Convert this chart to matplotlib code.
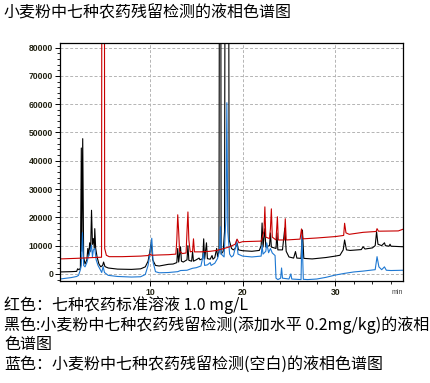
import matplotlib
matplotlib.use("Agg")
import matplotlib.pyplot as plt
from matplotlib.ticker import MultipleLocator

plt.rcParams['font.family'] = ['Noto Sans CJK SC', 'DejaVu Sans']

title = "小麦粉中七种农药残留检测的液相色谱图"
notes = ["红色：七种农药标准溶液 1.0 mg/L",
         "黑色:小麦粉中七种农药残留检测(添加水平 0.2mg/kg)的液相",
         "色谱图",
         "蓝色：小麦粉中七种农药残留检测(空白)的液相色谱图"]
x_ticks = [10, 20, 30]
y_ticks = [0, 10000, 20000, 30000, 40000, 50000, 60000, 70000, 80000]

# red: standard solution
red_t = [0.3, 2.0, 4.0, 4.78, 4.84, 5.07, 5.12, 5.3, 5.6, 7.0, 9.0, 9.8, 10.0, 10.2,
         11.0, 12.0, 12.8, 12.9, 13.0, 13.1, 13.2, 13.5, 13.9, 14.0, 14.1, 14.2, 14.35,
         14.6, 14.7, 14.8, 15.5, 16.5, 17.2, 18.0, 18.6, 19.2, 19.4, 19.6, 20.0, 21.0,
         22.0, 22.3, 22.4, 22.5, 22.9, 23.0, 23.1, 23.2, 23.6, 23.75, 23.85, 24.5, 24.6,
         24.7, 26.2, 26.35, 26.5, 28.0, 30.0, 30.9, 31.0, 31.15, 31.5, 33.0, 34.4, 34.5,
         34.65, 36.8, 37.3]
red_v = [5300, 5500, 5800, 5900, 200000, 200000, 9000, 6600, 6100, 6100, 6300, 6500, 7000, 6600,
         6700, 6800, 7000, 12000, 20900, 15000, 8000, 7200, 7400, 15000, 21900, 12000, 7800,
         8000, 12400, 7800, 7800, 8000, 8300, 9000, 9600, 10500, 12300, 11000, 11400, 11500,
         11600, 15000, 23700, 13000, 12500, 16000, 23000, 13000, 12000, 20200, 12000, 12000, 19500,
         12000, 12300, 15900, 12400, 12700, 13200, 13600, 17900, 14500, 14000, 14700, 15000, 16000,
         15100, 15200, 15800]

# black: spiked sample
black_t = [0.3, 1.5, 2.1, 2.2, 2.35, 2.5, 2.6, 2.65, 2.75, 2.85, 3.0, 3.2, 3.3, 3.4, 3.5, 3.6,
           3.7, 3.8, 3.9, 4.0, 4.05, 4.15, 4.3, 4.5, 4.7, 4.9, 5.0, 5.15, 5.5, 6.5, 8.0, 9.0,
           9.5, 9.8, 10.0, 10.15, 10.3, 10.6, 11.0, 11.5, 12.0, 12.5, 12.9, 13.0, 13.1, 13.3,
           13.4, 13.6, 14.0, 14.1, 14.2, 14.5, 14.6, 14.7, 15.0, 15.3, 15.4, 15.7, 15.8, 15.9,
           16.1, 16.2, 16.5, 16.7, 16.8, 17.0, 17.2, 17.3, 17.45, 17.53, 17.62, 17.68, 17.9,
           18.05, 18.15, 18.45, 18.55, 18.8, 19.0, 19.2, 19.4, 19.55, 20.0, 21.0, 21.8, 22.0,
           22.1, 22.2, 22.4, 22.5, 22.9, 23.0, 23.1, 23.6, 23.7, 23.8, 24.3, 24.55, 24.7, 25.0,
           25.5, 25.7, 25.85, 26.3, 26.45, 26.6, 27.5, 29.0, 30.0, 30.5, 30.85, 31.0, 31.2,
           31.6, 32.0, 32.8, 33.0, 33.2, 34.0, 34.3, 34.45, 34.6, 35.0, 35.3, 35.4, 35.8,
           35.9, 36.0, 37.3]
black_v = [700, 800, 900, 1800, 1500, 2000, 44500, 8000, 47800, 6000, 3500, 5000, 9000, 6500, 11000, 8000,
           22500, 10500, 12500, 9000, 16000, 9000, 6000, 3500, 2500, 3000, 4200, 2600, 2100, 1700, 1600, 1800,
           2500, 4500, 8000, 11200, 5000, 3000, 2800, 3100, 3400, 3500, 4000, 9000, 4200, 9600,
           4500, 4200, 5000, 10000, 4800, 4500, 7900, 4500, 5000, 5600, 5000, 5400, 12400, 5200,
           11000, 5400, 5200, 6500, 5200, 5800, 9000, 6000, 8000, 200000, 200000, 7000, 8000,
           15000, 200000, 200000, 12000, 9000, 8500, 9000, 10900, 8500, 8200, 8000, 8300, 10000,
           18000, 9500, 16000, 9500, 10000, 14500, 9500, 9000, 14500, 8500, 8500, 16200, 8000, 6000,
           5600, 7900, 5600, 5500, 15500, 5500, 5300, 5800, 6300, 6600, 8500, 12000, 8500,
           8300, 8400, 8600, 9600, 8800, 9200, 10000, 14900, 10500, 10000, 11000, 10000, 9800,
           10500, 9800, 9600]

# blue: blank sample
blue_t = [0.3, 1.5, 2.1, 2.3, 2.5, 2.6, 2.72, 2.85, 3.0, 3.2, 3.35, 3.5, 3.7, 3.8, 3.9, 4.05,
          4.2, 4.4, 4.6, 4.8, 4.95, 5.1, 5.5, 6.5, 8.0, 9.0, 9.5, 9.8, 10.0, 10.2, 10.35, 10.6,
          11.0, 12.0, 13.0, 13.3, 14.0, 14.6, 15.0, 15.5, 15.8, 15.9, 16.2, 16.5, 16.6, 17.0,
          17.3, 17.5, 17.6, 17.7, 18.0, 18.2, 18.3, 18.4, 18.6, 18.8, 19.0, 19.2, 19.35, 19.5,
          20.0, 21.0, 22.0, 22.1, 22.2, 22.5, 22.6, 22.8, 23.0, 23.2, 23.5, 23.6, 23.8, 24.1,
          24.2, 24.3, 25.0, 25.2, 25.3, 26.3, 26.4, 26.55, 27.0, 28.0, 29.0, 30.0, 31.0, 32.0,
          33.0, 33.5, 34.3, 34.5, 34.7, 35.0, 35.3, 35.5, 36.0, 37.3]
blue_v = [-1800, -1300, -900, -500, 1500, 3000, 14600, 3000, 2500, 4000, 6000, 7500, 10200, 6000, 8500, 9000,
          5000, 3000, 1800, 500, 2600, 500, -500, -900, -1100, -1000, -200, 3000, 7000, 12600, 4000, 800,
          400, 500, 800, 1200, 1300, 2000, 2200, 2800, 7400, 3000, 3200, 4000, 3000, 3800,
          5500, 8000, 16700, 7000, 6000, 20000, 60500, 15000, 7000, 6000, 6500, 9000, 12000, 7000,
          6300, 6000, 6300, 10200, 7000, 8000, 11000, 7500, 9000, 7400, 6500, -1500, -2000, -1500,
          2100, -1500, -1800, 0, -1800, -2000, 13800, -1900, -2000, -1800, -1200, -400, 200, 700,
          1000, 1200, 1500, 6100, 2500, 1500, 2500, 1300, 1200, 1300]

fig = plt.figure(figsize=(4.31, 3.83), dpi=100)
W, H = 431, 383
ax = fig.add_axes([60 / W, (H - 281) / H, (403 - 60) / W, (281 - 43.3) / H])

ax.plot(black_t, black_v, color='#000000', lw=0.8)
ax.plot(blue_t, blue_v, color='#1e78d2', lw=0.8)
ax.plot(red_t, red_v, color='#c80000', lw=0.8)

ax.set_xlim(0.3, 37.3)
ax.set_ylim(-2500, 81500)
ax.set_xticks(x_ticks)
ax.set_yticks(y_ticks)
ax.xaxis.set_minor_locator(MultipleLocator(2))
ax.yaxis.set_minor_locator(MultipleLocator(2000))
ax.grid(True, which='major', color='#b4b4b4', linestyle=(0, (3, 2)), linewidth=0.7)
ax.tick_params(which='major', length=3.5, width=0.7, pad=1.5, labelsize=6.2, labelcolor='#202010')
ax.tick_params(which='minor', length=2, width=0.6)
for lab in ax.get_xticklabels() + ax.get_yticklabels():
    lab.set_fontweight('bold')
    lab.set_family(['Liberation Sans', 'DejaVu Sans'])
for s in ax.spines.values():
    s.set_linewidth(0.9)

fig.text(397 / W, 1 - 293 / H, "min", fontsize=5, ha='center', va='center',
         color='#404040', family=['Liberation Sans'])

fig.text(4 / W, 1 - 13 / H, title, fontsize=11.5, ha='left', va='center')
for i, line in enumerate(notes):
    fig.text(4 / W, 1 - (305 + 20 * i) / H, line, fontsize=11.5, ha='left', va='center')

fig.savefig("out.png", dpi=100)
